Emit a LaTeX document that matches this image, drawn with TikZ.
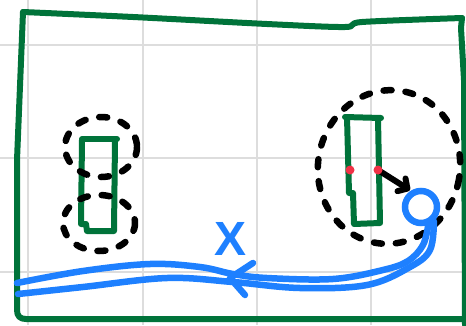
\documentclass[tikz,border=0pt]{standalone}
\usepackage{fontspec}
\newfontfamily\handfont{Liberation Sans}
\usetikzlibrary{arrows.meta,calc}
\definecolor{pgreen}{RGB}{0,115,58}
\definecolor{pblue}{RGB}{30,128,255}
\definecolor{pred}{RGB}{240,50,70}
\definecolor{pgrid}{RGB}{221,221,221}
\tikzset{
  gridline/.style={draw=pgrid,line width=2.2pt},
  greenline/.style={draw=pgreen,line width=6pt,line cap=round,line join=round},
  dashline/.style={draw=black,line width=6.5pt,line cap=round,dash pattern=on 8pt off 14pt},
  blueline/.style={draw=pblue,line width=6.5pt,line cap=round,line join=round},
  blackarrow/.style={draw=black,line width=6pt,line cap=round,line join=round,
    -{Straight Barb[length=7pt,width=15pt,line cap=round,line join=round]}},
  balldot/.style={circle,draw=pblue,line width=6.5pt,minimum size=32pt,inner sep=0pt},
  reddot/.style={circle,fill=pred,minimum size=9pt,inner sep=0pt},
  xlabel/.style={text=pblue,font=\handfont\bfseries\fontsize{48}{48}\selectfont,inner sep=0pt}
}
\begin{document}
\begin{tikzpicture}[x=1pt,y=-1pt]
\useasboundingbox (0,0) rectangle (466,325);
\fill[white] (0,0) rectangle (466,325);
% grid
\foreach \gx in {28,143,257,371} \draw[gridline] (\gx,0) -- (\gx,325);
\foreach \gy in {45,158,272} \draw[gridline] (0,\gy) -- (466,\gy);
% frame
\draw[greenline] plot[smooth,tension=0.5] coordinates {(23,12) (133,17) (267,24) (345,27) (362,22) (462,18)};
\draw[greenline] (462,18) -- (461,28) -- (464,80) -- (465,325);
\draw[greenline] (23,12) -- (17,160) -- (17,310) .. controls (17,316) and (20,319) .. (26,319) -- (466,319);
% left box
\draw[greenline] (82,139) -- (117,139);
\draw[greenline] (115,140) -- (114,231) -- (87,231) -- (86,224) -- (81,224) -- (82,140);
% right box
\draw[greenline] (345,117) -- (381,118);
\draw[greenline] (378,118) -- (380,223) -- (354,224) -- (353,193) -- (349,193) -- (347,117);
% dashed ellipses
\draw[dashline] (101,147) ellipse [x radius=36, y radius=30];
\draw[dashline] (99,223) ellipse [x radius=36, y radius=28];
\draw[dashline,rotate around={-10:(389,167)}] (389,167) ellipse [x radius=71, y radius=77];
% red dots and arrow
\node[reddot] (r1) at (350,170) {};
\coordinate (r2c) at (378,170);
\node[balldot] (ball) at (421,207) {};
\draw[blackarrow,shorten >=1pt] (r2c) -- (ball.122);
\node[reddot] (r2) at (378,170) {};
% blue double path
\coordinate (L1) at (17,283);
\coordinate (L2) at (18,294);
\draw[blueline] plot[smooth,tension=0.6] coordinates {(ball.-68) (423,245) (408,261) (383,270) (333,279) (267,278) (233,274) (200,267) (150,264) (83,271) (L1)};
\draw[blueline] plot[smooth,tension=0.6] coordinates {(ball.-48) (430,250) (410,267) (367,285) (300,288) (233,282) (167,278) (83,287) (L2)};
% arrowhead on the blue path
\coordinate (btip) at (230,278);
\draw[blueline] ($(btip)+(23,-15)$) -- (btip) -- ($(btip)+(15,17)$);
% label
\node[xlabel] (xl) at (231,239) {X};
\end{tikzpicture}
\end{document}
